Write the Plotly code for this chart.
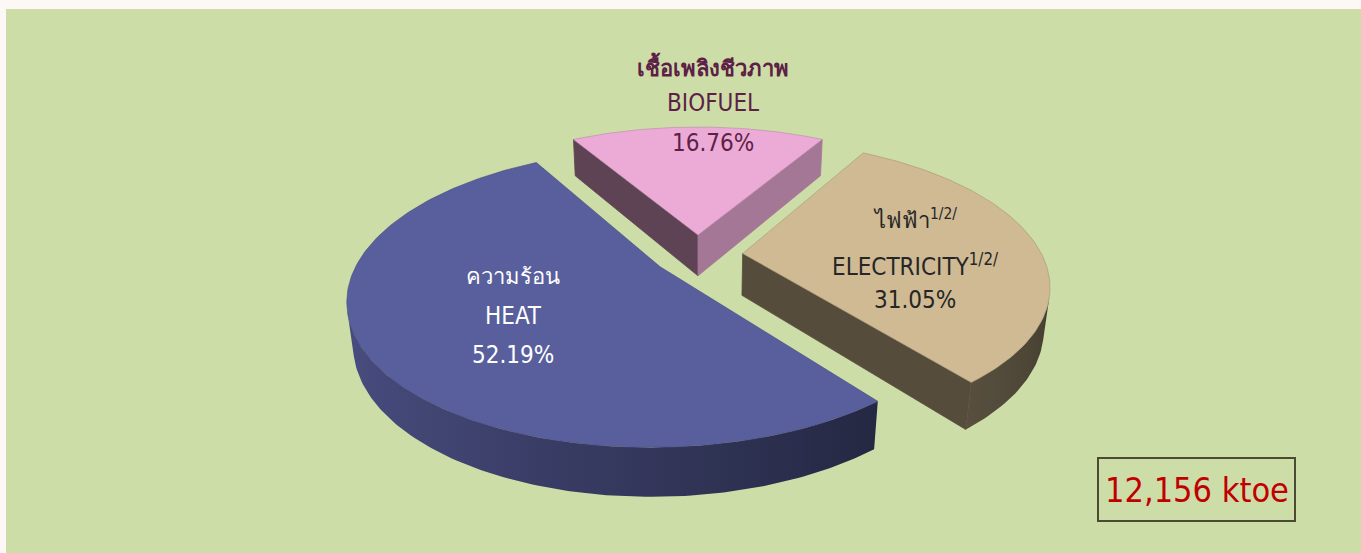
import numpy as np
import plotly.graph_objects as go

# Final energy consumption of renewable energy, by type
categories = ["BIOFUEL", "ELECTRICITY", "HEAT"]
labels_th = ["เชื้อเพลิงชีวภาพ", "ไฟฟ้า", "ความร้อน"]
footnote = ["", "1/2/", ""]
shares = [16.76, 31.05, 52.19]
total_ktoe = 12156

# top face colour of each slice
top_colors = [(236, 170, 214), (207, 186, 147), (89, 95, 157)]

# ---- pie geometry: 3D pie seen from above, with perspective ----
W, H = 1361, 553
ROT = -30.2             # first slice edge, degrees clockwise from 12 o'clock
PHI = np.radians(27.4)  # elevation of the viewpoint
DIST = 4.3              # camera distance in pie radii
SCALE = 1287.0          # screen scale
CX, CY = 698.0, 255.0   # screen position of the pie centre
THICK = 0.16            # pie thickness in radii
EXPLODE = 0.15          # slice explosion in radii

sphi, cphi = np.sin(PHI), np.cos(PHI)
cam = np.array([0.0, DIST * sphi, -DIST * cphi])


def proj(X, Y, Z):
    X, Y, Z = np.asarray(X, float), np.asarray(Y, float), np.asarray(Z, float)
    depth = DIST - Y * sphi + Z * cphi
    sx = CX + SCALE * X / depth
    sy = CY - SCALE * (Y * cphi + Z * sphi) / depth
    return sx, sy


def shade(rgb, f):
    return "rgb(%d,%d,%d)" % tuple(int(max(0, min(255, c * f))) for c in rgb)


def rim_factor(t):
    return 0.58 - 0.25 * np.sin(t)


fig = go.Figure()


def add_poly(xs, ys, color, line_color=None, line_width=0.8, gradient=None):
    kw = {}
    if gradient is not None:
        kw["fillgradient"] = gradient
    fig.add_trace(go.Scatter(
        x=list(xs) + [xs[0]], y=list(ys) + [ys[0]], mode="lines",
        fill="toself", fillcolor=color,
        line=dict(color=line_color or color, width=line_width),
        hoverinfo="skip", showlegend=False, **kw))


# angular range of every slice
bounds = []
a = ROT
for s in shares:
    span = s / 100.0 * 360.0
    bounds.append((a, a + span))
    a += span

slices = []
for i, (a0, a1) in enumerate(bounds):
    mid = np.radians((a0 + a1) / 2)
    slices.append(dict(i=i, a0=a0, a1=a1,
                       ox=EXPLODE * np.sin(mid), oz=EXPLODE * np.cos(mid)))

# paint from back to front
for sl in sorted(slices, key=lambda d: -d["oz"]):
    i = sl["i"]
    base = top_colors[i]
    ox, oz = sl["ox"], sl["oz"]
    th = np.radians(np.linspace(sl["a0"], sl["a1"], int((sl["a1"] - sl["a0"]) / 1.0) + 2))
    Xr = ox + np.sin(th)
    Zr = oz + np.cos(th)

    # radial walls
    for ang, sign in ((sl["a0"], -1), (sl["a1"], 1)):
        r = np.radians(ang)
        n = np.array([np.sin(r + sign * np.pi / 2), 0, np.cos(r + sign * np.pi / 2)])
        pm = np.array([ox + 0.5 * np.sin(r), -THICK / 2, oz + 0.5 * np.cos(r)])
        if np.dot(n, pm - cam) < 0:
            ex, ez = ox + np.sin(r), oz + np.cos(r)
            px, py = proj([ox, ex, ex, ox], [0, 0, -THICK, -THICK], [oz, ez, ez, oz])
            add_poly(px, py, shade(base, 0.55 + 0.175 * n[0]))

    # outer rim: visible part, shaded with a horizontal gradient
    tm = 0.5 * (th[:-1] + th[1:])
    vis = []
    for t in tm:
        n = np.array([np.sin(t), 0, np.cos(t)])
        pm = np.array([ox + np.sin(t), -THICK / 2, oz + np.cos(t)])
        vis.append(np.dot(n, pm - cam) < 0)
    vis = np.array(vis)
    if vis.any():
        k_idx = np.where(vis)[0]
        idx = np.arange(k_idx.min(), k_idx.max() + 2)
        tx, ty = proj(Xr[idx], np.zeros(len(idx)), Zr[idx])
        bx, by = proj(Xr[idx], -THICK * np.ones(len(idx)), Zr[idx])
        xs_all = np.r_[tx, bx]
        x_lo, x_hi = xs_all.min(), xs_all.max()
        order = np.argsort(tx)
        samp = np.linspace(0, len(order) - 1, 14).astype(int)
        cs = []
        for j in samp:
            kk = order[j]
            pos = (tx[kk] - x_lo) / (x_hi - x_lo)
            cs.append([pos, shade(base, rim_factor(th[idx][kk]))])
        cs[0][0] = 0.0
        cs[-1][0] = 1.0
        cs = sorted(cs, key=lambda c: c[0])
        grad = dict(type="horizontal", colorscale=cs, start=x_lo, stop=x_hi)
        mid_col = shade(base, rim_factor(np.mean(th[idx])))
        add_poly(np.r_[tx, bx[::-1]], np.r_[ty, by[::-1]], mid_col,
                 line_color="rgba(0,0,0,0)", line_width=0, gradient=grad)

    # top face
    tx, ty = proj(np.r_[ox, Xr], np.zeros(len(Xr) + 1), np.r_[oz, Zr])
    add_poly(tx, ty, shade(base, 1.0), line_color=shade(base, 0.8), line_width=0.6)

# ---- labels ----
FONT = "'DejaVu Sans Condensed', 'DejaVu Sans', sans-serif"
label_style = [
    dict(color="#5E1F47", x=713, ys=[66, 103, 143], bold=True),
    dict(color="#262626", x=915, ys=[219, 265, 300], bold=False),
    dict(color="#FFFFFF", x=513, ys=[276, 316, 355], bold=False),
]
sizes = [22, 24, 24]
annotations = []
for i, st in enumerate(label_style):
    th_txt = labels_th[i]
    en_txt = categories[i]
    if footnote[i]:
        th_txt += f"<sup>{footnote[i]}</sup>"
        en_txt += f"<sup>{footnote[i]}</sup>"
    if st["bold"]:
        th_txt = "<b>" + th_txt + "</b>"
    lines = [th_txt, en_txt, f"{shares[i]:.2f}%"]
    for txt, y, sz in zip(lines, st["ys"], sizes):
        annotations.append(dict(x=st["x"], y=y, xref="x", yref="y", text=txt,
                                showarrow=False,
                                font=dict(family=FONT, size=sz, color=st["color"]),
                                xanchor="center", yanchor="middle"))

annotations.append(dict(x=1197, y=490, xref="x", yref="y", text=f"{total_ktoe:,} ktoe",
                        showarrow=False, font=dict(family=FONT, size=34, color="#C00000"),
                        xanchor="center", yanchor="middle"))

shapes = [
    dict(type="rect", xref="x", yref="y", x0=6, x1=W, y0=9, y1=H,
         fillcolor="#CDDDA7", line=dict(width=0), layer="below"),
    dict(type="rect", xref="x", yref="y", x0=1098, x1=1295, y0=458, y1=521,
         fillcolor="rgba(0,0,0,0)", line=dict(color="#4C4A30", width=2), layer="above"),
]

fig.update_layout(
    width=W, height=H, margin=dict(l=0, r=0, t=0, b=0),
    paper_bgcolor="#FDF7F5", plot_bgcolor="rgba(0,0,0,0)",
    xaxis=dict(range=[0, W], visible=False, fixedrange=True),
    yaxis=dict(range=[H, 0], visible=False, fixedrange=True),
    shapes=shapes, annotations=annotations, showlegend=False,
)

fig.write_html("out.html")
